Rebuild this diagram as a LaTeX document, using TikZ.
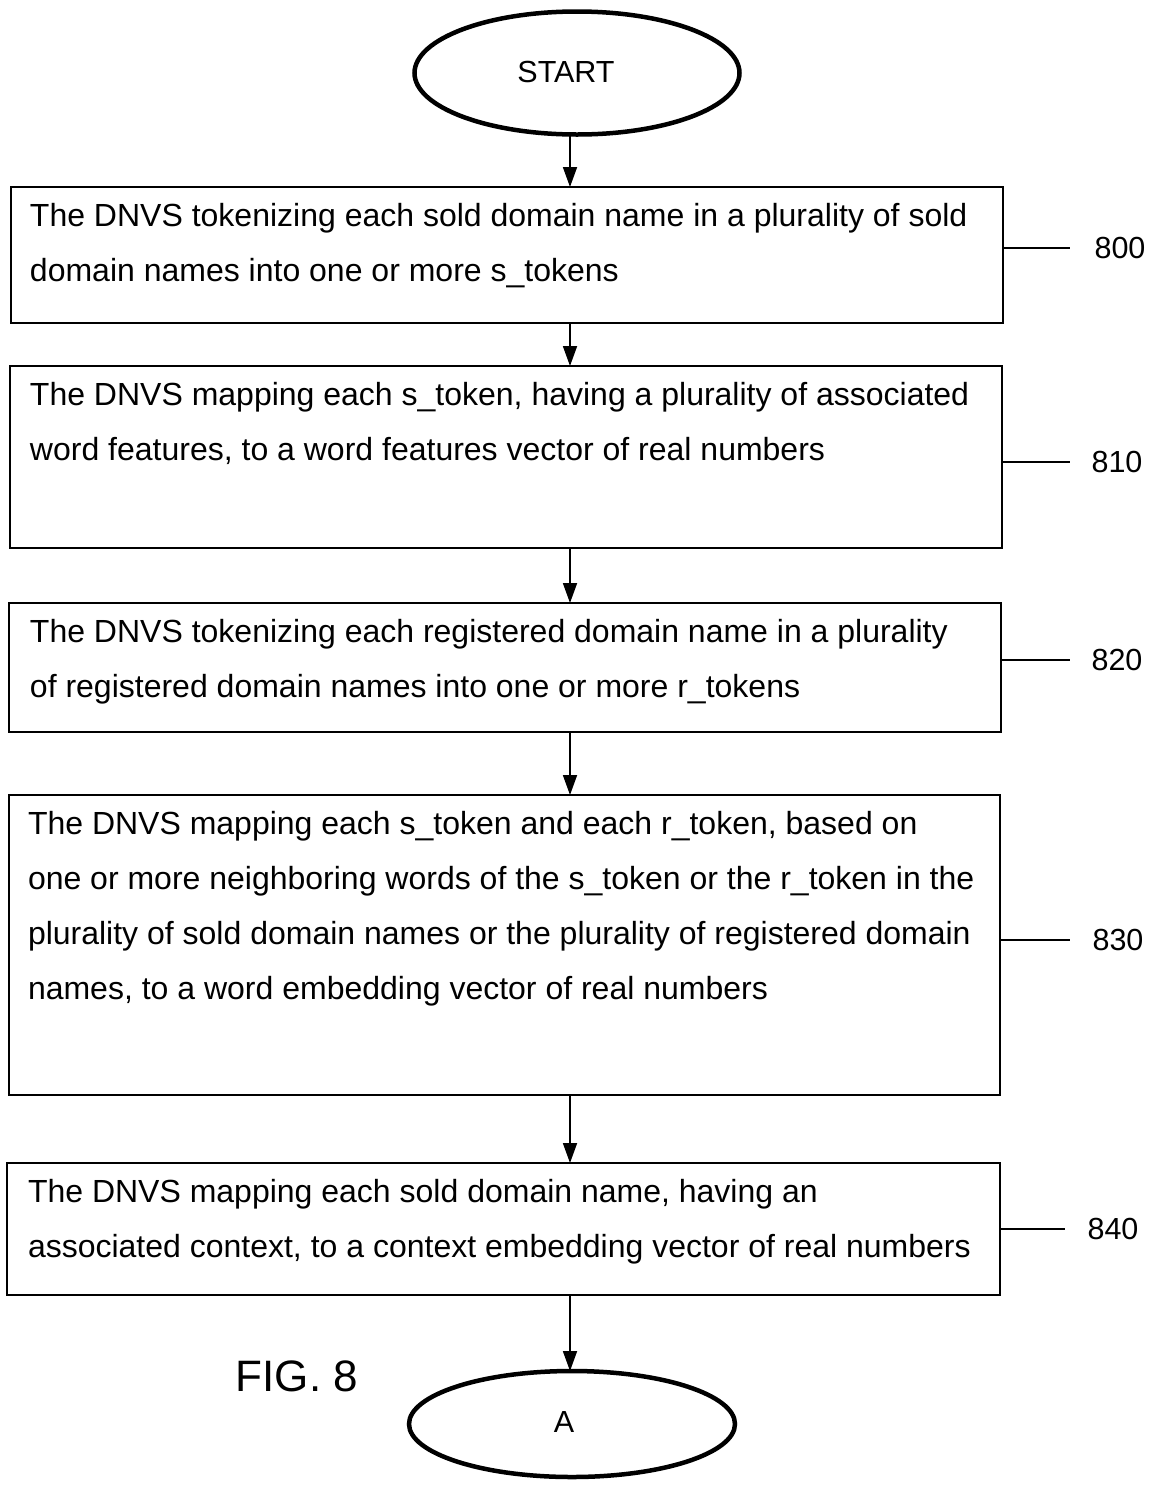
\documentclass[tikz,border=0pt]{standalone}
\usepackage{fontspec}
\setmainfont{Liberation Sans}
\usetikzlibrary{arrows.meta,shapes.geometric}
\begin{document}
\begin{tikzpicture}[x=1pt,y=-1pt,
  every node/.style={inner sep=0pt,outer sep=0pt},
  txtfont/.style={font=\fontsize{32}{55}\selectfont},
  smallfont/.style={font=\fontsize{30.5}{40}\selectfont},
  terminal/.style={ellipse,draw,line width=4.5pt},
  stepbox/.style={draw,line width=1.5pt,rectangle},
  steptext/.style={txtfont,align=left,anchor=north west},
  refnum/.style={smallfont},
  arr/.style={line width=1.8pt,-{Triangle[length=20pt,width=14pt]}},
  refline/.style={line width=1.5pt}]
\useasboundingbox (0,0) rectangle (1153,1492);
\coordinate (ax) at (570,0);

% terminals
\node[terminal,minimum width=325pt,minimum height=123pt] (start) at (577,73) {};
\node[smallfont] (startlabel) at (566,72) {START};
\node[terminal,minimum width=326pt,minimum height=106pt] (A) at (572,1424) {};
\node[smallfont] (Alabel) at (564,1422) {A};

% process boxes
\node[stepbox,minimum width=992pt,minimum height=136pt] (b800) at (507,255) {};
\node[stepbox,minimum width=992pt,minimum height=182pt] (b810) at (506,457) {};
\node[stepbox,minimum width=992pt,minimum height=129pt] (b820) at (505,667.5) {};
\node[stepbox,minimum width=991pt,minimum height=300pt] (b830) at (504.5,945) {};
\node[stepbox,minimum width=993pt,minimum height=132pt] (b840) at (503.5,1229) {};

% box texts
\node[steptext] (t800) at ([shift={(19,16)}]b800.north west)
  {The DNVS tokenizing each sold domain name in a plurality of sold\\domain names into one or more s\_tokens};
\node[steptext] (t810) at ([shift={(20,16)}]b810.north west)
  {The DNVS mapping each s\_token, having a plurality of associated\\word features, to a word features vector of real numbers};
\node[steptext] (t820) at ([shift={(21,16)}]b820.north west)
  {The DNVS tokenizing each registered domain name in a plurality\\of registered domain names into one or more r\_tokens};
\node[steptext] (t830) at ([shift={(19,16)}]b830.north west)
  {The DNVS mapping each s\_token and each r\_token, based on\\one or more neighboring words of the s\_token or the r\_token in the\\plurality of sold domain names or the plurality of registered domain\\names, to a word embedding vector of real numbers};
\node[steptext] (t840) at ([shift={(21,16)}]b840.north west)
  {The DNVS mapping each sold domain name, having an\\associated context, to a context embedding vector of real numbers};

% flow arrows
\draw[arr] (start.south -| ax) -- (b800.north -| ax);
\draw[arr] (b800.south -| ax) -- (b810.north -| ax);
\draw[arr] (b810.south -| ax) -- (b820.north -| ax);
\draw[arr] (b820.south -| ax) -- (b830.north -| ax);
\draw[arr] (b830.south -| ax) -- (b840.north -| ax);
\draw[arr] (b840.south -| ax) -- (A.north -| ax);

% reference numerals
\node[refnum] (n800) at (1120,248) {800};
\node[refnum] (n810) at (1117,462) {810};
\node[refnum] (n820) at (1117,660) {820};
\node[refnum] (n830) at (1118,940) {830};
\node[refnum] (n840) at (1113,1229) {840};
\draw[refline] (b800.east |- n800) -- ([xshift=-25pt]n800.west);
\draw[refline] (b810.east |- n810) -- ([xshift=-22pt]n810.west);
\draw[refline] (b820.east |- n820) -- ([xshift=-22pt]n820.west);
\draw[refline] (b830.east |- n830) -- ([xshift=-23pt]n830.west);
\draw[refline] (b840.east |- n840) -- ([xshift=-23pt]n840.west);

% figure label
\node[font=\fontsize{44}{50}\selectfont] (fig) at (297,1376) {FIG. 8};
\end{tikzpicture}
\end{document}
